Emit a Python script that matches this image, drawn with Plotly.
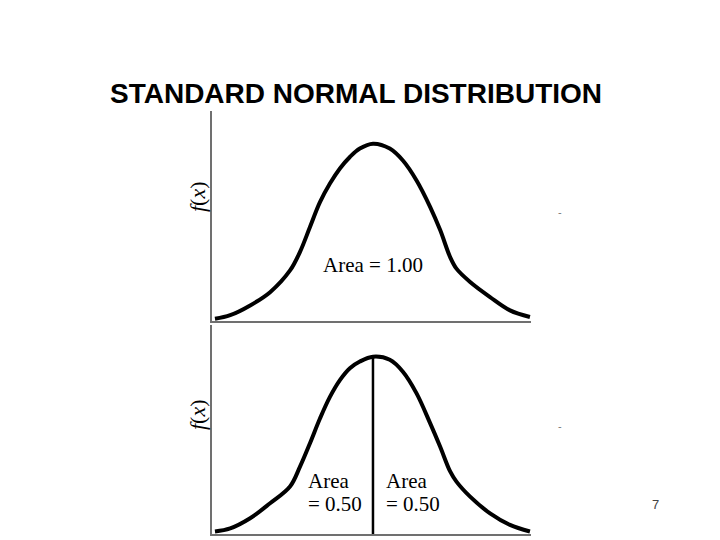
import plotly.graph_objects as go

# Top curve: whole distribution, area = 1.00
top_x = [-3.01, -2.72, -2.34, -1.96, -1.58, -1.39, -1.20, -1.01, -0.82, -0.63, -0.44, -0.25, 0.0,
         0.32, 0.57, 0.83, 1.09, 1.28, 1.47, 1.59, 1.85, 2.23, 2.61, 2.99]
top_y = [0.005, 0.013, 0.035, 0.065, 0.114, 0.156, 0.212, 0.268, 0.310, 0.344, 0.370, 0.389, 0.400,
         0.389, 0.362, 0.317, 0.257, 0.205, 0.144, 0.118, 0.088, 0.054, 0.024, 0.009]

# Bottom curve: split at the mean into two halves of 0.50
bot_x = [-3.01, -2.72, -2.34, -1.96, -1.58, -1.39, -1.20, -1.01, -0.82, -0.63, -0.44, -0.25, 0.0,
         0.32, 0.57, 0.83, 1.09, 1.28, 1.47, 1.59, 1.85, 2.23, 2.61, 2.99]
bot_y = [0.004, 0.011, 0.034, 0.068, 0.106, 0.151, 0.204, 0.260, 0.309, 0.347, 0.374, 0.389, 0.400,
         0.393, 0.366, 0.317, 0.249, 0.196, 0.140, 0.117, 0.083, 0.045, 0.019, 0.004]

mean_x = 0.0
peak_y = 0.400

title_text = "STANDARD NORMAL DISTRIBUTION"
top_label = "Area = 1.00"
half_labels = ["Area", "= 0.50"]
y_label = "<i>f</i>(<i>x</i>)"
page_number = "7"

fig = go.Figure()

fig.add_trace(go.Scatter(x=top_x, y=top_y, mode="lines", line=dict(color="black", width=4, shape="spline", smoothing=1.0),
                         xaxis="x", yaxis="y", showlegend=False, hoverinfo="skip"))
fig.add_trace(go.Scatter(x=bot_x, y=bot_y, mode="lines", line=dict(color="black", width=4, shape="spline", smoothing=1.0),
                         xaxis="x2", yaxis="y2", showlegend=False, hoverinfo="skip"))
fig.add_trace(go.Scatter(x=[mean_x, mean_x], y=[-0.0023, peak_y], mode="lines", line=dict(color="black", width=2.5),
                         xaxis="x2", yaxis="y2", showlegend=False, hoverinfo="skip"))

xr = [-3.067, 3.010]
axis_common = dict(showgrid=False, zeroline=False, showticklabels=False, ticks="", linecolor="#707070", linewidth=1.5)

fig.update_layout(
    width=720, height=540,
    margin=dict(l=0, r=0, t=0, b=0),
    paper_bgcolor="white", plot_bgcolor="white",
    xaxis=dict(domain=[0.2944, 0.7375], range=xr, anchor="y", showline=True, **axis_common),
    yaxis=dict(domain=[0.4056, 0.7944], range=[0, 0.4736], anchor="x", showline=True, **axis_common),
    xaxis2=dict(domain=[0.2944, 0.7375], range=xr, anchor="y2", showline=True, **axis_common),
    yaxis2=dict(domain=[0.0106, 0.3981], range=[-0.0023, 0.4718], anchor="x2", showline=True, **axis_common),
)

serif = "Liberation Serif, Times New Roman, serif"
ann = []
ann.append(dict(text="<b>" + title_text + "</b>", x=356 / 720, y=1 - 94 / 540, xref="paper", yref="paper",
                xanchor="center", yanchor="middle", showarrow=False,
                font=dict(family="Liberation Sans, Arial, sans-serif", size=28, color="black")))
ann.append(dict(text=top_label, x=0.0, y=0.126, xref="x", yref="y", xanchor="center", yanchor="middle",
                showarrow=False, font=dict(family=serif, size=21, color="black")))
for xl in [-1.276, 0.21]:
    ann.append(dict(text=half_labels[0], x=xl, y=(534.3 - 482) * 0.002265, xref="x2", yref="y2",
                    xanchor="left", yanchor="middle", showarrow=False, font=dict(family=serif, size=21, color="black")))
    ann.append(dict(text=half_labels[1], x=xl, y=(534.3 - 505) * 0.002265, xref="x2", yref="y2",
                    xanchor="left", yanchor="middle", showarrow=False, font=dict(family=serif, size=21, color="black")))
for yc in [197, 415]:
    ann.append(dict(text=y_label, x=197 / 720, y=1 - yc / 540, xref="paper", yref="paper", textangle=-90,
                    xanchor="center", yanchor="middle", showarrow=False, font=dict(family=serif, size=22, color="black")))
for yc in [212, 426]:
    ann.append(dict(text="-", x=560 / 720, y=1 - yc / 540, xref="paper", yref="paper",
                    xanchor="center", yanchor="middle", showarrow=False, font=dict(family="Liberation Sans, Arial", size=11, color="#777777")))
ann.append(dict(text=page_number, x=655 / 720, y=1 - 504 / 540, xref="paper", yref="paper",
                xanchor="center", yanchor="middle", showarrow=False, font=dict(family="Liberation Sans, Arial", size=13, color="#444444")))

fig.update_layout(annotations=ann)

fig.write_html("out.html", config={"displayModeBar": False},
               post_script="document.body.style.margin='0';document.body.style.overflow='hidden';")
